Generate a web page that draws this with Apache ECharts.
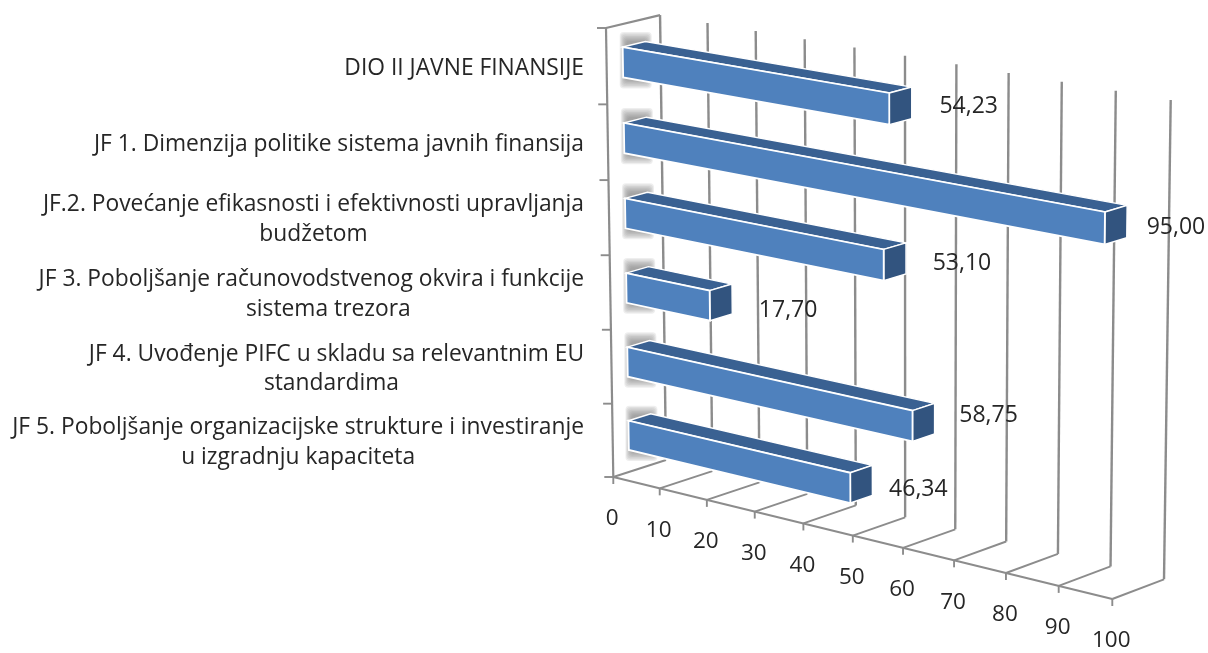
<!DOCTYPE html>
<html><head><meta charset="utf-8">
<style>html,body{margin:0;background:#fff}#c{width:1208px;height:653px;filter:blur(0.5px)}</style>
<script src="https://cdn.jsdelivr.net/npm/echarts@6/dist/echarts.min.js"></script>
</head><body><div id="c"></div>
<script>
const categories = [
  ['DIO II JAVNE FINANSIJE'],
  ['JF 1. Dimenzija politike sistema javnih finansija'],
  ['JF.2. Povećanje efikasnosti i efektivnosti upravljanja','budžetom'],
  ['JF 3. Poboljšanje računovodstvenog okvira i funkcije','sistema trezora'],
  ['JF 4. Uvođenje PIFC u skladu sa relevantnim EU','standardima'],
  ['JF 5. Poboljšanje organizacijske strukture i investiranje','u izgradnju kapaciteta']
];
const values = [54.23, 95.00, 53.10, 17.70, 58.75, 46.34];
const valueLabels = ['54,23','95,00','53,10','17,70','58,75','46,34'];
const valueTicks = [0,10,20,30,40,50,60,70,80,90,100];

// 3D box projection (homogeneous): origin, value end, depth end, height end + their weights
const P0=[613.3,477], PU=[1112.3,599], PD=[666,460], PH=[606,28];
const wU=.923, wD=1.01, wH=.976;
function project(u,d,h){
  const w=1+u*(wU-1)+d*(wD-1)+h*(wH-1);
  return [0,1].map(i=>(P0[i]+u*(wU*PU[i]-P0[i])+d*(wD*PD[i]-P0[i])+h*(wH*PH[i]-P0[i]))/w);
}
const barD0=.3, barD1=.72, gapFrac=.4;
const GRID='#8c8c8c', TXT='#262626';
const labelFont='22.8px "Open Sans"', tickFont='22.5px "Open Sans"', valueFont='23px "Open Sans"';
const labelRight=584, linePitch=29.5;
const secondLineShift=[0,0,0,17,-5,0];
const labelShift=[[4,4],[-4,6],[3,5],[3,11],[1,-3],[-7,9]];
const mctx=document.createElement('canvas').getContext('2d');
function textW(t){mctx.font=labelFont;return mctx.measureText(t).width;}

function frac(params,api,v,c){
  const p=api.coord([v,c]), g=params.coordSys;
  return [(p[0]-g.x)/g.width, 1-(p[1]-g.y)/g.height];
}
function line(a,b,w){return {type:'line',shape:{x1:a[0],y1:a[1],x2:b[0],y2:b[1]},style:{stroke:GRID,lineWidth:w}};}
function poly(pts,fill,stroke,lw){return {type:'polygon',shape:{points:pts},style:{fill:fill,stroke:stroke,lineWidth:lw||0}};}

function renderTick(params,api){
  const v=api.value(0), u=frac(params,api,v,0)[0];
  const f=project(u,0,0), b=project(u,1,0), t=project(u,1,1);
  const ch=[line(f,b,1.9), line(b,t,2.4), line(f,[f[0],f[1]+7],1.9),
    {type:'text',style:{text:String(v),x:f[0]-1,y:f[1]+42,textAlign:'center',textVerticalAlign:'middle',font:tickFont,fill:TXT}}];
  if(v===0) ch.push(line(f,project(frac(params,api,valueTicks[valueTicks.length-1],0)[0],0,0),2));
  return {type:'group',children:ch};
}
function renderFrame(params,api){
  const i=api.value(1), band=api.size([0,1])[1]/params.coordSys.height;
  const h=frac(params,api,0,i)[1], top=h+band/2;
  const a=project(0,0,top), ch=[line(a,[a[0]-9,a[1]],1.9)];
  if(i===0) ch.push(line(project(0,0,0),a,2.2),line(a,project(0,1,1),2.2));
  if(i===categories.length-1){const o=project(0,0,0);ch.push(line(o,[o[0]-9,o[1]],1.9));}
  return {type:'group',children:ch};
}
function renderShadow(params,api){
  const i=api.value(1), band=api.size([0,1])[1]/params.coordSys.height;
  const h=frac(params,api,0,i)[1], e=band*(gapFrac/2);
  const a=project(0,barD0,h+e), b=project(0,barD0,h-e);
  const ch=[];
  for(let k=0;k<8;k++){
    const ix=k*.9, iy=k*1.3;
    ch.push({type:'rect',shape:{x:a[0]-3+ix,y:a[1]-15+iy,width:32-2*ix,height:b[1]-a[1]+26-2*iy,r:4},
      style:{fill:'rgba(120,120,120,.13)'}});
  }
  return {type:'group',children:ch};
}
function renderBar(params,api){
  const i=api.value(1), v=api.value(0), band=api.size([0,1])[1]/params.coordSys.height;
  const [u,h]=frac(params,api,v,i), e=band*gapFrac/2, x0=frac(params,api,0,i)[0];
  const A=project(x0,barD0,h+e),B=project(u,barD0,h+e),C=project(u,barD0,h-e),D=project(x0,barD0,h-e);
  const E=project(x0,barD1,h+e),F=project(u,barD1,h+e),G=project(u,barD1,h-e);
  const mid=project(u,barD1,h);
  const s=labelShift[i];
  return {type:'group',children:[
    poly([A,E,F,B],'#3a6192','#fff',1.4),
    poly([B,F,G,C],'#32547f','#fff',1.4),
    poly([A,B,C,D],'#4f81bd','#fff',1.8),
    {type:'text',z2:50,style:{text:valueLabels[i],x:mid[0]+53+s[0],y:mid[1]+s[1],textAlign:'center',textVerticalAlign:'middle',font:valueFont,fill:TXT}}
  ]};
}
function renderCat(params,api){
  const i=api.value(1), lines=categories[i], h=frac(params,api,0,i)[1];
  const a=project(0,0,h);
  const w=textW(lines[0]), cx=labelRight-w/2;
  const ch=lines.map((t,k)=>({type:'text',style:{text:t,x:k?cx+secondLineShift[i]:cx,
    y:a[1]+2+(k-(lines.length-1)/2)*linePitch,textAlign:'center',textVerticalAlign:'middle',font:labelFont,fill:TXT}}));
  return {type:'group',children:ch};
}
const barData=values.map((v,i)=>[v,i]);
const catIdx=categories.map((c,i)=>[0,i]);
const common={type:'custom',coordinateSystem:'cartesian2d',clip:false,silent:true,animation:false};
const chart=echarts.init(document.getElementById('c'),null,{renderer:'canvas'});
chart.setOption({
  animation:false,backgroundColor:'#fff',
  grid:{left:0,right:0,top:0,bottom:0},
  xAxis:{type:'value',min:0,max:100,interval:10,show:false},
  yAxis:{type:'category',inverse:true,data:categories.map(c=>c.join(' ')),show:false},
  series:[
    Object.assign({},common,{z:1,renderItem:renderTick,data:valueTicks.map(v=>[v,0]),encode:{x:0,y:1}}),
    Object.assign({},common,{z:1,renderItem:renderFrame,data:catIdx,encode:{x:0,y:1}}),
    Object.assign({},common,{z:2,renderItem:renderShadow,data:catIdx,encode:{x:0,y:1}}),
    Object.assign({},common,{z:3,renderItem:renderBar,data:barData,encode:{x:0,y:1}}),
    Object.assign({},common,{z:4,renderItem:renderCat,data:catIdx,encode:{x:0,y:1}})
  ]
});
</script></body></html>
